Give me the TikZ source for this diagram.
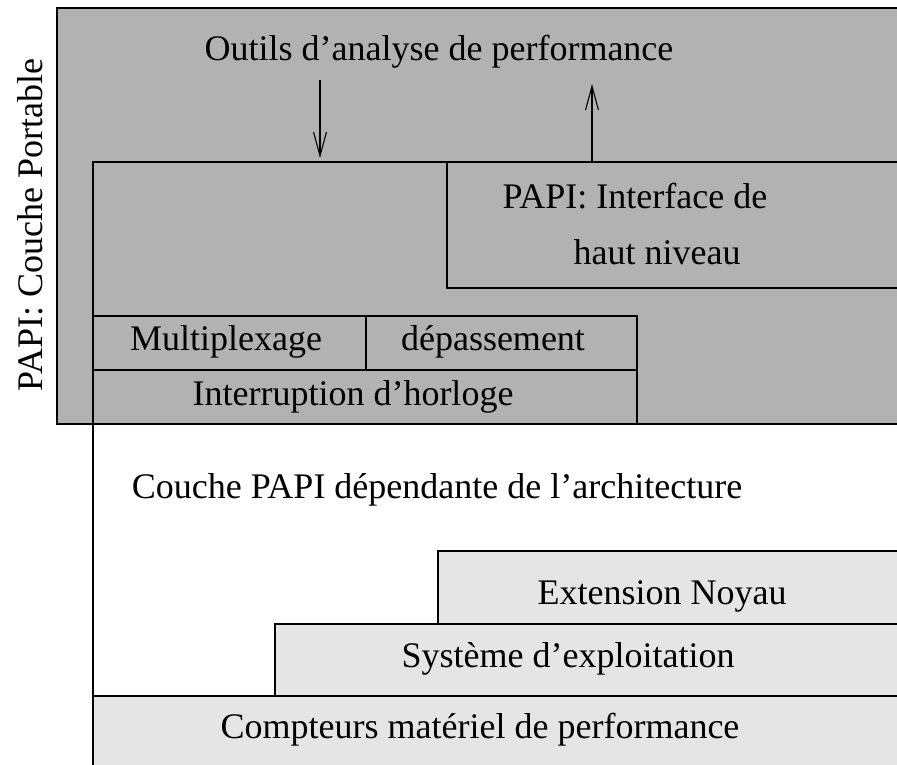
\documentclass[tikz,border=0pt]{standalone}
\usepackage{fontspec}
\setmainfont{Liberation Serif}
\usetikzlibrary{arrows.meta}
\definecolor{portablegray}{gray}{0.70}
\definecolor{lowgray}{gray}{0.90}
\tikzset{
  layer/.style={draw=black, line width=1.3pt},
  portable/.style={layer, fill=portablegray},
  lowlayer/.style={layer, fill=lowgray},
  label/.style={font=\fontsize{36}{42}\selectfont, inner sep=0pt},
  flow/.style={line width=1.1pt, -{Straight Barb[length=24pt, width=13pt, line width=1.1pt]}}
}
\begin{document}
\begin{tikzpicture}[x=1pt, y=-1pt]
\useasboundingbox (0,0) rectangle (897,765);
\clip (0,0) rectangle (897,765);

% portable layer and architecture dependent layer
\path[portable] (57,8) rectangle (905,424);
\path[layer] (93,162) rectangle (905,780);

% portable sub-blocks
\path[portable] (447,162) rectangle (905,288);
\path[portable] (93,316) rectangle (366,370);
\path[portable] (366,316) rectangle (637,370);
\path[portable] (93,370) rectangle (637,424);

% hardware / system stack
\path[lowlayer] (438,551) rectangle (905,624);
\path[lowlayer] (275,624) rectangle (905,696);
\path[lowlayer] (93,696) rectangle (905,780);

% labels
\node[label, rotate=90] (portablelbl) at (30,225) {PAPI: Couche Portable};
\node[label] (tools) at (439,52) {Outils d’analyse de performance};
\node[label] (hl1) at (635,196) {PAPI: Interface de};
\node[label] (hl2) at (657,252) {haut niveau};
\node[label] (mux) at (226,342) {Multiplexage};
\node[label] (ovf) at (493,342) {dépassement};
\node[label] (irq) at (353,397) {Interruption d’horloge};
\node[label] (dep) at (437,490) {Couche PAPI dépendante de l’architecture};
\node[label] (kext) at (662,596) {Extension Noyau};
\node[label] (os) at (568,659) {Système d’exploitation};
\node[label] (hw) at (480,730) {Compteurs matériel de performance};

% calls between tools and the portable layer
\coordinate (downA) at (320,80);
\coordinate (downB) at (320,158);
\coordinate (upA) at (592,162);
\coordinate (upB) at (592,84);
\draw[flow] (downA) -- (downB);
\draw[flow] (upA) -- (upB);
\end{tikzpicture}
\end{document}
